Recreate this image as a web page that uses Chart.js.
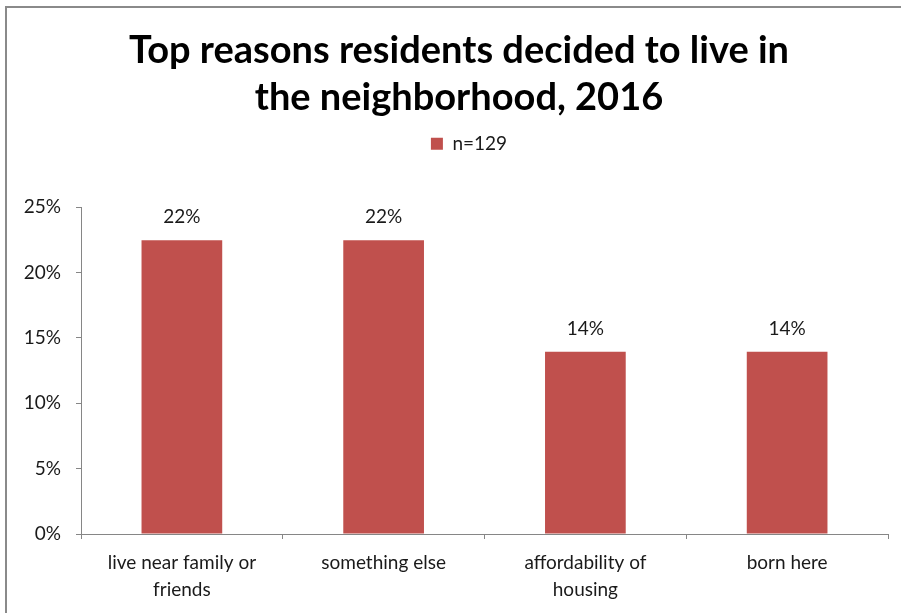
<!DOCTYPE html>
<html>
<head>
<meta charset="utf-8">
<title>Top reasons residents decided to live in the neighborhood, 2016</title>
<script src="https://cdn.jsdelivr.net/npm/chart.js@4/dist/chart.umd.min.js"></script>
<style>
  html, body { margin: 0; padding: 0; background: #fff; }
  #wrap { position: relative; width: 901px; height: 613px; overflow: hidden; }
  #frame {
    position: absolute; left: 5px; top: 6px; width: 920px; height: 640px;
    border-left: 2px solid #8a8a8a; border-top: 2px solid #8a8a8a;
    pointer-events: none;
  }
  canvas { position: absolute; left: 0; top: 0; }
</style>
</head>
<body>
<div id="wrap">
  <canvas id="chart" width="901" height="613"></canvas>
  <div id="frame"></div>
</div>
<script>
// --- Data ---
const categories = [
  ['live near family or', 'friends'],
  'something else',
  ['affordability of', 'housing'],
  'born here'
];
const seriesName = 'n=129';
const shares = [22.48, 22.48, 13.95, 13.95];
const yTicks = [0, 5, 10, 15, 20, 25];

const BAR_COLOR = '#C0504D';
const AXIS_COLOR = '#868686';
const TEXT_COLOR = '#1a1a1a';
const FONT = 'Lato, "Open Sans", sans-serif';

// value labels above the bars
const barLabels = {
  id: 'barLabels',
  afterDatasetsDraw(chart) {
    const ctx = chart.ctx;
    const meta = chart.getDatasetMeta(0);
    ctx.save();
    ctx.font = '19px ' + FONT;
    ctx.fillStyle = TEXT_COLOR;
    ctx.textAlign = 'center';
    ctx.textBaseline = 'middle';
    meta.data.forEach((bar, i) => {
      ctx.fillText(Math.round(shares[i]) + '%', bar.x, bar.y - 23);
    });
    ctx.restore();
  }
};

// legend gap below, title + legend centred a bit right of the plot like the original
const layoutTweaks = {
  id: 'layoutTweaks',
  beforeInit(chart) {
    const fit = chart.legend.fit;
    chart.legend.fit = function () {
      fit.call(this);
      this.height = 79;
    };
  },
  afterLayout(chart) {
    chart.titleBlock.left = 30;
    chart.legend.left = 50;
  }
};

new Chart(document.getElementById('chart'), {
  type: 'bar',
  data: {
    labels: categories,
    datasets: [{
      label: seriesName,
      data: shares,
      backgroundColor: BAR_COLOR,
      borderWidth: 0,
      categoryPercentage: 1,
      barPercentage: 0.4
    }]
  },
  options: {
    responsive: false,
    animation: false,
    layout: { padding: { top: 27, left: 0, right: 13, bottom: 0 } },
    plugins: {
      title: {
        display: true,
        text: ['Top reasons residents decided to live in', 'the neighborhood, 2016'],
        color: '#000',
        font: { family: FONT, size: 38, weight: 'bold', lineHeight: 1.24 },
        padding: { top: 0, bottom: 7 }
      },
      legend: {
        display: true,
        labels: {
          color: TEXT_COLOR,
          font: { family: FONT, size: 19 },
          boxWidth: 12,
          boxHeight: 12,
          padding: 6
        }
      },
      tooltip: { enabled: false }
    },
    scales: {
      x: {
        offset: true,
        grid: { display: true, offset: true, drawOnChartArea: false, drawTicks: true, tickLength: 5, color: AXIS_COLOR },
        border: { display: true, color: AXIS_COLOR },
        ticks: { color: TEXT_COLOR, font: { family: FONT, size: 19, lineHeight: 1.42 }, padding: 10, maxRotation: 0, autoSkip: false },
        afterFit(scale) { scale.height = 79; }
      },
      y: {
        min: 0,
        max: 25,
        afterBuildTicks(scale) { scale.ticks = yTicks.map(v => ({ value: v })); },
        grid: { display: true, drawOnChartArea: false, drawTicks: true, tickLength: 5, color: AXIS_COLOR },
        border: { display: true, color: AXIS_COLOR },
        ticks: { color: TEXT_COLOR, font: { family: FONT, size: 19 }, padding: 15, callback: v => v + '%' },
        afterFit(scale) { scale.width = 81; }
      }
    }
  },
  plugins: [barLabels, layoutTweaks]
});
</script>
</body>
</html>
